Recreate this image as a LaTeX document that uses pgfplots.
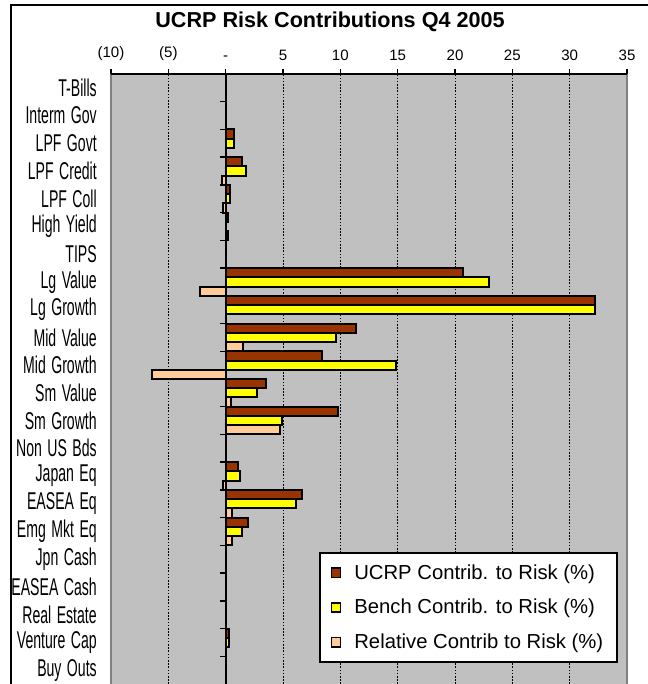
\documentclass[border=0pt]{standalone}
\usepackage{fontspec}
\setmainfont{Liberation Sans}
\newfontfamily\condfont[FakeStretch=0.58, WordSpace=1.4]{Liberation Sans}
\usepackage{pgfplots}
\pgfplotsset{compat=1.18}
\definecolor{ucrp}{HTML}{993300}
\definecolor{bench}{HTML}{FFFF00}
\definecolor{rel}{HTML}{FFCC99}
\definecolor{bgray}{HTML}{C0C0C0}
\definecolor{edgegray}{HTML}{808080}
\pgfplotsset{sqlegend/.style={legend image code/.code={\draw[##1, draw=black, line width=1pt] (0pt,-3.4pt) rectangle (6.8pt,3.4pt);}}}
\begin{document}
\begin{tikzpicture}[x=0.75pt,y=0.75pt]
\useasboundingbox (0,0) rectangle (648,684);
\draw[line width=1.5pt] (11,-30) -- (11,678.7) -- (700,678.7);
\node[font=\bfseries\fontsize{16.2}{19}\selectfont] at (330,662) {UCRP Risk Contributions Q4 2005};
\begin{axis}[
  at={(83.25pt,0pt)}, anchor=south west,
  scale only axis, width=387pt, height=457.5pt,
  xmin=-10, xmax=35, ymin=-0.5, ymax=21.5,
  clip=false,
  axis background/.style={fill=bgray},
  axis line style={draw=none},
  xtick={-10,-5,...,35},
  xticklabels={(10),(5),-,5,10,15,20,25,30,35},
  xtick pos=right, xticklabel pos=right,
  tick align=outside,
  major tick length=3.5pt,
  xtick style={black, line width=1.1pt},
  xticklabel style={font=\fontsize{11.3}{13}\selectfont, yshift=3pt},
  ytick={0,...,21},
  yticklabels={Buy Outs,Venture Cap,Real Estate,EASEA Cash,Jpn Cash,Emg Mkt Eq,EASEA Eq,Japan Eq,Non US Bds,Sm Growth,Sm Value,Mid Growth,Mid Value,Lg Growth,Lg Value,TIPS,High Yield,LPF Coll,LPF Credit,LPF Govt,Interm Gov,T-Bills},
  ytick style={draw=none},
  yticklabel style={font=\condfont\fontsize{18.2}{21}\selectfont, anchor=east, inner sep=0pt, xshift=-7pt},
  xmajorgrids,
  grid style={black, line width=0.75pt, dash pattern=on 1.2pt off 1.2pt},
  legend style={at={(0.403,0.2164)}, anchor=north west, draw=black, line width=1.5pt, fill=white,
    font=\fontsize{15.2}{18}\selectfont, inner xsep=8pt, inner ysep=6.5pt, row sep=9.6pt,
    /tikz/every odd column/.append style={column sep=8pt}},
  legend cell align=left,
]
\addplot[xbar, bar width=0.3333, bar shift=0.3333, fill=ucrp, draw=black, line width=1.5pt, sqlegend]
 coordinates {(0.70,19) (1.45,18) (0.38,17) (0.2,16) (20.67,14) (32.2,13) (11.4,12) (8.43,11) (3.49,10) (9.83,9) (1.05,7) (6.63,6) (1.98,5) (0.25,1)};
\addplot[xbar, bar width=0.3333, bar shift=0, fill=bench, draw=black, line width=1.5pt, sqlegend]
 coordinates {(0.70,19) (1.80,18) (0.38,17) (22.98,14) (32.2,13) (9.65,12) (14.87,11) (2.76,10) (4.88,9) (1.22,7) (6.10,6) (1.45,5) (0.25,1)};
\addplot[xbar, bar width=0.3333, bar shift=-0.3333, fill=rel, draw=black, line width=1.5pt, sqlegend]
 coordinates {(-0.35,18) (-0.2,17) (0.2,16) (-2.24,14) (1.54,12) (-6.4,11) (0.49,10) (4.74,9) (-0.2,7) (0.52,6) (0.52,5)};
\legend{UCRP Contrib. to Risk (\%), Bench Contrib. to Risk (\%), Relative Contrib to Risk (\%)}
\draw[black, line width=1.5pt] (axis cs:0,-0.5) -- (axis cs:0,21.5);
\pgfplotsinvokeforeach{0,...,20}{\draw[black, line width=1.1pt] (axis cs:0,{#1+0.5}) -- ([xshift=-4.5pt]axis cs:0,{#1+0.5});}
\draw[edgegray, line width=1.1pt] (rel axis cs:0,0) -- (rel axis cs:0,1);
\draw[edgegray, line width=1.1pt] (rel axis cs:1,0) -- (rel axis cs:1,1);
\draw[black, line width=1.1pt] (rel axis cs:0,1) -- (rel axis cs:1,1);
\end{axis}
\end{tikzpicture}
\end{document}
